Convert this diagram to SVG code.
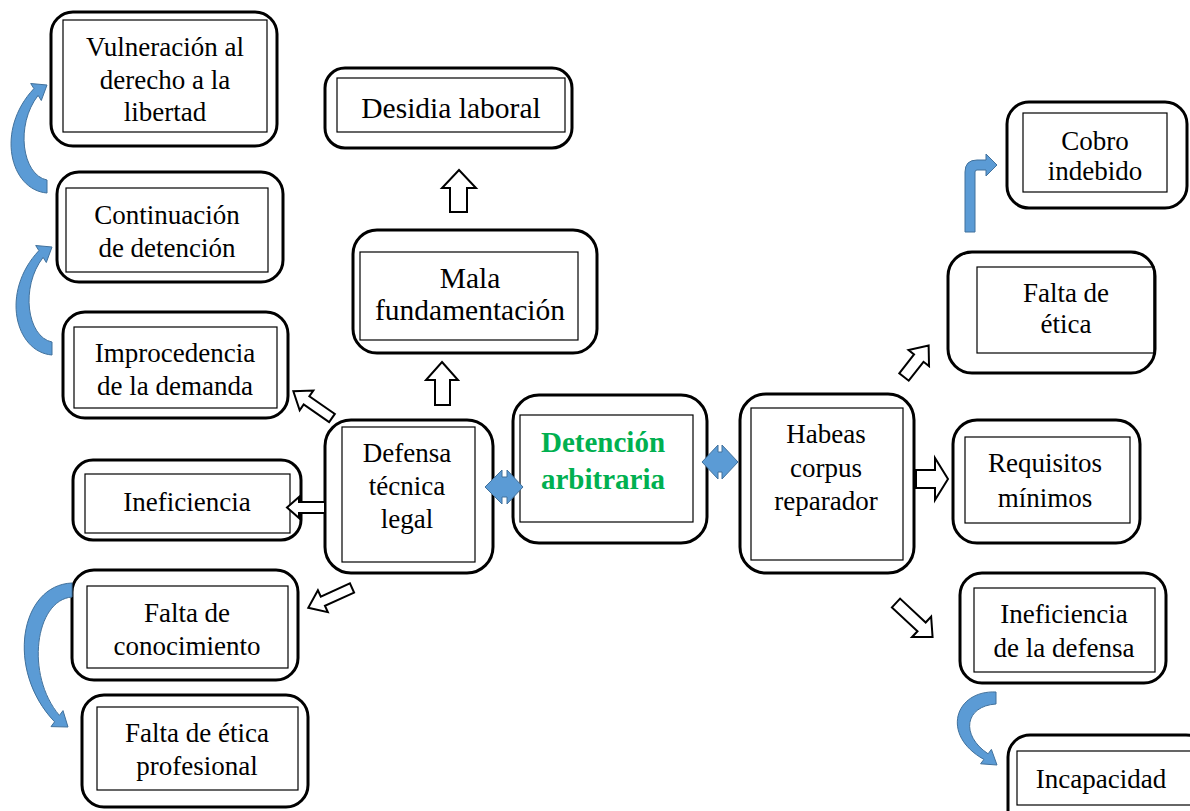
<svg xmlns="http://www.w3.org/2000/svg" width="1190" height="811" viewBox="0 0 1190 811">
<style>
.o{fill:#fff;stroke:#000;stroke-width:3}
.i{fill:none;stroke:#000;stroke-width:1.2}
text{font-family:"Liberation Serif","Times New Roman",serif;font-size:27px;fill:#000;text-anchor:middle}
.l{font-size:29.5px}
.g{font-weight:bold;fill:#00B050;font-size:29px}
.h{fill:#fff;stroke:#000;stroke-width:2;stroke-linejoin:miter}
.b{fill:#5B9BD5;stroke:#41719C;stroke-width:1}
</style>
<rect width="1190" height="811" fill="#fff"/>
<g id="n-vulneracion"><rect class="o" x="51" y="12" width="226" height="134" rx="22"/><rect class="i" x="63" y="20" width="204" height="112"/><text x="165" y="56">Vulneración al</text><text x="165" y="89">derecho a la</text><text x="165" y="121">libertad</text></g>
<g id="n-continuacion"><rect class="o" x="57" y="172" width="226" height="110" rx="22"/><rect class="i" x="66" y="188" width="202" height="84"/><text x="167" y="224">Continuación</text><text x="167" y="257">de detención</text></g>
<g id="n-improcedencia"><rect class="o" x="63" y="312" width="225" height="106" rx="22"/><rect class="i" x="74" y="327" width="203" height="81"/><text x="175" y="362">Improcedencia</text><text x="175" y="395">de la demanda</text></g>
<g id="n-ineficiencia"><rect class="o" x="73" y="460" width="228" height="80" rx="20"/><rect class="i" x="85" y="474" width="205" height="59"/><text x="187" y="511">Ineficiencia</text></g>
<g id="n-falta-conocimiento"><rect class="o" x="72" y="570" width="226" height="110" rx="22"/><rect class="i" x="87" y="586" width="201" height="82"/><text x="187" y="622">Falta de</text><text x="187" y="655">conocimiento</text></g>
<g id="n-falta-etica-profesional"><rect class="o" x="82" y="695" width="226" height="112" rx="22"/><rect class="i" x="97" y="707" width="201" height="83"/><text x="197" y="742">Falta de ética</text><text x="197" y="775">profesional</text></g>
<g id="n-desidia"><rect class="o" x="325" y="68" width="247" height="80" rx="20"/><rect class="i" x="337" y="78" width="228" height="54"/><text class="l" x="451" y="118">Desidia laboral</text></g>
<g id="n-mala"><rect class="o" x="353" y="230" width="244" height="123" rx="24"/><rect class="i" x="360" y="252" width="218" height="88"/><text class="l" x="470" y="288">Mala</text><text class="l" x="470" y="320">fundamentación</text></g>
<g id="n-defensa"><rect class="o" x="325" y="420" width="168" height="153" rx="26"/><rect class="i" x="342" y="427" width="133" height="135"/><text x="407" y="462">Defensa</text><text x="407" y="495">técnica</text><text x="407" y="528">legal</text></g>
<g id="n-detencion"><rect class="o" x="513" y="395" width="194" height="148" rx="26"/><rect class="i" x="520" y="415" width="173" height="107"/><text class="g" x="603" y="452">Detención</text><text class="g" x="603" y="489">arbitraria</text></g>
<g id="n-habeas"><rect class="o" x="740" y="394" width="174" height="179" rx="26"/><rect class="i" x="751" y="408" width="152" height="152"/><text x="826" y="443">Habeas</text><text x="826" y="477">corpus</text><text x="826" y="510">reparador</text></g>
<g id="n-requisitos"><rect class="o" x="953" y="420" width="187" height="123" rx="24"/><rect class="i" x="965" y="437" width="165" height="86"/><text x="1045" y="472">Requisitos</text><text x="1045" y="507">mínimos</text></g>
<g id="n-falta-etica"><rect class="o" x="948" y="252" width="207" height="121" rx="24"/><rect class="i" x="977" y="267" width="177" height="86"/><text x="1066" y="302">Falta de</text><text x="1066" y="333">ética</text></g>
<g id="n-cobro"><rect class="o" x="1007" y="102" width="180" height="106" rx="22"/><rect class="i" x="1023" y="113" width="144" height="79"/><text x="1095" y="150">Cobro</text><text x="1095" y="180">indebido</text></g>
<g id="n-ineficiencia-defensa"><rect class="o" x="960" y="573" width="206" height="110" rx="22"/><rect class="i" x="974" y="588" width="181" height="84"/><text x="1064" y="623">Ineficiencia</text><text x="1064" y="657">de la defensa</text></g>
<g id="n-incapacidad"><rect class="o" x="1008" y="735" width="200" height="100" rx="22"/><rect class="i" x="1017" y="751" width="190" height="54"/><text x="1101" y="788">Incapacidad</text></g>
<g id="connectors">
<path class="b" d="M47 193 C10 190 -5 130 33.9 88.6 L30.7 83.5 L47 85 L41.3 100.5 L38.1 95.4 C15 125 22 175 47 180 Z"/>
<path class="b" transform="translate(5,162)" d="M47 193 C10 190 -5 130 33.9 88.6 L30.7 83.5 L47 85 L41.3 100.5 L38.1 95.4 C15 125 22 175 47 180 Z"/>
<path class="b" d="M72 583 C20 585 5 670 54.6 721.8 L51 726.6 L68 727 L63 710.6 L59.4 715.4 C25 675 35 600 72 597 Z"/>
<path class="b" d="M996 692 C955 690 940 735 983.9 759.4 L980.6 763.8 L997 765 L991.4 749.4 L988.1 753.8 C960 735 965 706 996 704 Z"/>
<path class="b" d="M965 232 L965 172 Q965 160 977 160 L986 160 L986 154 L997 165 L986 176 L986 170 L977 170 Q975 170 975 172 L975 232 Z"/>
<path class="b" d="M485 487 L502 470 L502 477 L507 477 L507 470 L523 487 L507 504 L507 497 L502 497 L502 504 Z"/>
<path class="b" d="M702 462 L718 445 L718 452 L722 452 L722 445 L738 462 L722 479 L722 472 L718 472 L718 479 Z"/>
<path class="h" d="M459 170 L476 188 L467 188 L467 212 L450 212 L450 188 L442 188 Z"/>
<path class="h" d="M442 362 L458 380 L450 380 L450 405 L435 405 L435 380 L426 380 Z"/>
<path class="h" d="M916 470 L935 470 L935 458 L948 479 L935 500 L935 488 L916 488 Z"/>
<path class="h" d="M325 502 L299 502 L299 497 L287 507.5 L299 518 L299 513 L325 513 Z"/>
<path class="h" transform="translate(332,418) rotate(214.7)" d="M0 -5 L31 -5 L31 -12 L47 0 L31 12 L31 5 L0 5 Z"/>
<path class="h" transform="translate(352,588) rotate(155.6)" d="M0 -5 L32 -5 L32 -12 L48 0 L32 12 L32 5 L0 5 Z"/>
<path class="h" transform="translate(904,377) rotate(-52)" d="M0 -6 L24 -6 L24 -13 L40 0 L24 13 L24 6 L0 6 Z"/>
<path class="h" transform="translate(896,603) rotate(43)" d="M0 -6 L35 -6 L35 -14 L50 0 L35 14 L35 6 L0 6 Z"/>
</g>
</svg>
